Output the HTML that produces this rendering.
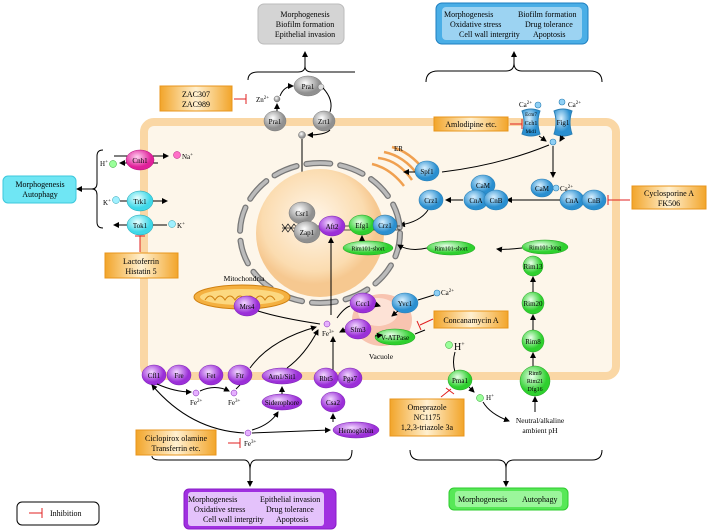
<!DOCTYPE html>
<html><head><meta charset="utf-8"><style>
html,body{margin:0;padding:0;background:#fff}
svg{display:block;font-family:"Liberation Serif",serif}
</style></head><body>
<svg width="708" height="532" viewBox="0 0 708 532" xmlns="http://www.w3.org/2000/svg">
<defs>
<marker id="a" markerWidth="6" markerHeight="6" refX="5" refY="3" orient="auto"><path d="M0,0L6,3L0,6z" fill="#000"/></marker>
<radialGradient id="g1" cx="40%" cy="35%"><stop offset="0" stop-color="#fff"/><stop offset="1" stop-color="#909090"/></radialGradient>
<radialGradient id="b1" cx="40%" cy="35%"><stop offset="0" stop-color="#d8f0ff"/><stop offset="1" stop-color="#2a8fd0"/></radialGradient>
<radialGradient id="gr" cx="40%" cy="35%"><stop offset="0" stop-color="#eaffea"/><stop offset="1" stop-color="#2ed02e"/></radialGradient>
<radialGradient id="pu" cx="40%" cy="35%"><stop offset="0" stop-color="#f2d8ff"/><stop offset="1" stop-color="#9b2fd8"/></radialGradient>
<radialGradient id="cy" cx="40%" cy="35%"><stop offset="0" stop-color="#e8ffff"/><stop offset="1" stop-color="#3fd8e8"/></radialGradient>
<radialGradient id="mg" cx="40%" cy="35%"><stop offset="0" stop-color="#ffd0f0"/><stop offset="1" stop-color="#e0209a"/></radialGradient>
<radialGradient id="nu" cx="45%" cy="40%"><stop offset="0" stop-color="#fff6ea"/><stop offset="0.8" stop-color="#fbdcb0"/><stop offset="1" stop-color="#f6c890"/></radialGradient>
<linearGradient id="or" x1="0" x2="1"><stop offset="0" stop-color="#f2a52a"/><stop offset="0.5" stop-color="#fff0d0"/><stop offset="1" stop-color="#f2a52a"/></linearGradient>
</defs>

<!-- cell -->
<rect x="144" y="122" width="472" height="254" rx="10" fill="#fdf6ea" stroke="#fad7a5" stroke-width="8"/>

<!-- top gray box -->
<rect x="258" y="4" width="86" height="40" rx="6" fill="#d4d4d4" stroke="#bbb"/>
<g font-size="8" text-anchor="middle"><text x="305" y="17">Morphogenesis</text><text x="305" y="27">Biofilm formation</text><text x="305" y="37">Epithelial invasion</text></g>
<path d="M248,80 Q248,72 258,72 L298,72 Q305,72 305,66 Q305,72 312,72 L355,72" fill="none" stroke="#000"/>
<line x1="305" y1="66" x2="305" y2="52" stroke="#000" marker-end="url(#a)"/>

<!-- top blue box -->
<rect x="436" y="3" width="152" height="41" rx="6" fill="#4aaee6" stroke="#1e7fc0"/>
<rect x="442" y="7" width="140" height="33" rx="4" fill="#bfe3f7" opacity="0.7"/>
<g font-size="8"><text x="444" y="17">Morphogenesis</text><text x="518" y="17">Biofilm formation</text><text x="450" y="27">Oxidative stress</text><text x="525" y="27">Drug tolerance</text><text x="459" y="37">Cell wall intergrity</text><text x="533" y="37">Apoptosis</text></g>
<path d="M426,82 Q426,71 438,71 L506,71 Q514,71 514,63 Q514,71 522,71 L590,71 Q602,71 602,82" fill="none" stroke="#000"/>
<line x1="514" y1="63" x2="514" y2="52" stroke="#000" marker-end="url(#a)"/>

<!-- ZAC box -->
<rect x="160" y="86" width="72" height="25" fill="url(#or)" stroke="#e8951c"/>
<g font-size="8" text-anchor="middle"><text x="196" y="97">ZAC307</text><text x="196" y="107">ZAC989</text></g>
<path d="M234,99 H246 M246,94 V104" stroke="#e02020"/>
<text x="256" y="102" font-size="7">Zn<tspan font-size="5" dy="-3">2+</tspan></text>
<circle cx="277" cy="99" r="3" fill="url(#g1)" stroke="#666" stroke-width=".5"/>
<ellipse cx="308" cy="86" rx="14" ry="10" fill="url(#g1)" stroke="#777" stroke-width=".5"/>
<text x="308" y="89" font-size="7" text-anchor="middle">Pra1</text>
<circle cx="321" cy="87" r="3" fill="#ddd" stroke="#666" stroke-width=".5"/>
<ellipse cx="275" cy="121" rx="11" ry="10" fill="url(#g1)" stroke="#777" stroke-width=".5"/>
<text x="275" y="124" font-size="7" text-anchor="middle">Pra1</text>
<ellipse cx="324" cy="121" rx="11" ry="10" fill="url(#g1)" stroke="#777" stroke-width=".5"/>
<text x="324" y="124" font-size="7" text-anchor="middle">Zrt1</text>
<line x1="277" y1="111" x2="277" y2="104" stroke="#000" marker-end="url(#a)"/>
<path d="M280,96 Q284,86 293,86" fill="none" stroke="#000" marker-end="url(#a)"/>
<path d="M323,88 Q334,100 330,112" fill="none" stroke="#000"/>
<path d="M330,130 Q325,135 308,135" fill="none" stroke="#000" marker-end="url(#a)"/>
<circle cx="302" cy="135" r="3.5" fill="url(#g1)" stroke="#666" stroke-width=".5"/>
<line x1="302" y1="139" x2="302" y2="200" stroke="#000" marker-end="url(#a)"/>

<!-- Amlodipine -->
<rect x="434" y="117" width="74" height="14" fill="url(#or)" stroke="#e8951c"/>
<text x="471" y="127" font-size="8" text-anchor="middle">Amlodipine etc.</text>
<path d="M510,124 H522 M522,119 V129" stroke="#e02020"/>
<text x="519" y="107" font-size="7">Ca<tspan font-size="5" dy="-3">2+</tspan></text>
<circle cx="538" cy="105" r="3" fill="#8fd0f5" stroke="#2a7fb5" stroke-width=".6"/>
<circle cx="562" cy="102" r="3" fill="#8fd0f5" stroke="#2a7fb5" stroke-width=".6"/>
<text x="568" y="107" font-size="7">Ca<tspan font-size="5" dy="-3">2+</tspan></text>
<path d="M522,111 Q531,107 540,111 Q536,122 540,134 Q531,138 522,134 Q526,122 522,111z" fill="url(#b1)" stroke="#2a7fb5"/>
<text x="531" y="125" font-size="6" text-anchor="middle">Cch1</text>
<text x="531" y="116" font-size="5" text-anchor="middle">Ecm7</text>
<text x="531" y="133" font-size="5" text-anchor="middle">Mid1</text>
<path d="M554,111 Q563,107 572,111 Q568,122 572,134 Q563,138 554,134 Q558,122 554,111z" fill="url(#b1)" stroke="#2a7fb5"/>
<text x="563" y="125" font-size="7" text-anchor="middle">Fig1</text>
<circle cx="553" cy="142" r="3" fill="#8fd0f5" stroke="#2a7fb5" stroke-width=".6"/>
<line x1="539" y1="136" x2="546" y2="141" stroke="#000" marker-end="url(#a)"/>
<line x1="563" y1="136" x2="560" y2="141" stroke="#000" marker-end="url(#a)"/>
<line x1="553" y1="146" x2="553" y2="177" stroke="#000" marker-end="url(#a)"/>
<path d="M549,145 Q500,165 442,172" fill="none" stroke="#000"/>

<!-- ER -->
<g fill="none" stroke="#f0a050" stroke-width="2.5">
<path d="M378,158 Q398,160 412,180"/><path d="M384,152 Q404,156 418,175"/><path d="M392,147 Q410,152 424,170"/><path d="M372,164 Q390,168 404,186"/>
</g>
<text x="394" y="151" font-size="7">ER</text>
<ellipse cx="427" cy="171" rx="12" ry="10" fill="url(#b1)" stroke="#2a7fb5" stroke-width=".6"/>
<text x="427" y="174" font-size="7" text-anchor="middle">Spf1</text>
<line x1="415" y1="172" x2="404" y2="172" stroke="#000" marker-end="url(#a)"/>

<!-- Calcineurin -->
<ellipse cx="542" cy="188" rx="11" ry="9" fill="url(#b1)" stroke="#2a7fb5" stroke-width=".6"/>
<text x="542" y="191" font-size="7" text-anchor="middle">CaM</text>
<circle cx="556" cy="188" r="3" fill="#8fd0f5" stroke="#2a7fb5" stroke-width=".6"/>
<text x="560" y="191" font-size="7">Ca<tspan font-size="5" dy="-3">2+</tspan></text>
<ellipse cx="572" cy="200" rx="12" ry="10" fill="url(#b1)" stroke="#2a7fb5" stroke-width=".6"/>
<text x="572" y="203" font-size="7" text-anchor="middle">CnA</text>
<ellipse cx="594" cy="200" rx="12" ry="10" fill="url(#b1)" stroke="#2a7fb5" stroke-width=".6"/>
<text x="594" y="203" font-size="7" text-anchor="middle">CnB</text>
<path d="M608,200 H618 M608,195 V205" stroke="#e02020"/>
<line x1="618" y1="200" x2="630" y2="200" stroke="#e02020"/>
<rect x="632" y="186" width="74" height="23" fill="url(#or)" stroke="#e8951c"/>
<g font-size="8" text-anchor="middle"><text x="669" y="196">Cyclosporine A</text><text x="669" y="206">FK506</text></g>
<line x1="560" y1="200" x2="507" y2="200" stroke="#000" marker-end="url(#a)"/>
<ellipse cx="483" cy="185" rx="12" ry="10" fill="url(#b1)" stroke="#2a7fb5" stroke-width=".6"/>
<text x="483" y="188" font-size="7" text-anchor="middle">CaM</text>
<ellipse cx="476" cy="200" rx="12" ry="10" fill="url(#b1)" stroke="#2a7fb5" stroke-width=".6"/>
<text x="476" y="203" font-size="7" text-anchor="middle">CnA</text>
<ellipse cx="496" cy="200" rx="12" ry="10" fill="url(#b1)" stroke="#2a7fb5" stroke-width=".6"/>
<text x="496" y="203" font-size="7" text-anchor="middle">CnB</text>
<line x1="463" y1="200" x2="446" y2="200" stroke="#000" marker-end="url(#a)"/>
<ellipse cx="431" cy="200" rx="12" ry="10" fill="url(#b1)" stroke="#2a7fb5" stroke-width=".6"/>
<text x="431" y="203" font-size="7" text-anchor="middle">Crz1</text>
<path d="M428,210 Q420,222 400,225" fill="none" stroke="#000" marker-end="url(#a)"/>

<!-- Nucleus -->
<circle cx="320" cy="233" r="64" fill="url(#nu)"/>
<g fill="none" stroke="#777" stroke-width="6" stroke-linecap="round" stroke-dasharray="24 10">
<ellipse cx="320" cy="233" rx="80" ry="70"/>
</g>
<g fill="none" stroke="#bbb" stroke-width="3.5" stroke-linecap="round" stroke-dasharray="24 10">
<ellipse cx="320" cy="233" rx="80" ry="70"/>
</g>
<path d="M282,228 L300,228 M282,224 l6,8 l6,-8 l6,8 M282,232 l6,-8 l6,8 l6,-8 M310,226 h90 M310,230 h90" fill="none" stroke="#222" stroke-width=".8"/>
<ellipse cx="302" cy="213" rx="13" ry="11" fill="url(#g1)" stroke="#777" stroke-width=".5"/>
<text x="302" y="216" font-size="7" text-anchor="middle">Csr1</text>
<ellipse cx="307" cy="232" rx="13" ry="11" fill="url(#g1)" stroke="#777" stroke-width=".5"/>
<text x="307" y="235" font-size="7" text-anchor="middle">Zap1</text>
<ellipse cx="332" cy="226" rx="13" ry="10" fill="url(#pu)" stroke="#7a20b0" stroke-width=".5"/>
<text x="332" y="229" font-size="7" text-anchor="middle">Aft2</text>
<ellipse cx="362" cy="225" rx="13" ry="10" fill="url(#gr)" stroke="#20a020" stroke-width=".5"/>
<text x="362" y="228" font-size="7" text-anchor="middle">Efg1</text>
<ellipse cx="385" cy="225" rx="12" ry="10" fill="url(#b1)" stroke="#2a6f95" stroke-width=".5"/>
<text x="385" y="228" font-size="7" text-anchor="middle">Crz1</text>
<ellipse cx="368" cy="248" rx="25" ry="7" fill="url(#gr)" stroke="#20a020" stroke-width=".5"/>
<text x="368" y="250.5" font-size="6" text-anchor="middle">Rim101-short</text>
<line x1="362" y1="241" x2="362" y2="236" stroke="#000" marker-end="url(#a)"/>
<ellipse cx="451" cy="248" rx="24" ry="7" fill="url(#gr)" stroke="#20a020" stroke-width=".5"/>
<text x="451" y="250.5" font-size="6" text-anchor="middle">Rim101-short</text>
<path d="M427,248 Q410,252 398,245" fill="none" stroke="#000" marker-end="url(#a)"/>
<ellipse cx="545" cy="247" rx="23" ry="7" fill="url(#gr)" stroke="#20a020" stroke-width=".5"/>
<text x="545" y="249.5" font-size="6" text-anchor="middle">Rim101-long</text>
<path d="M522,248 Q505,250 497,249" fill="none" stroke="#000" marker-end="url(#a)"/>

<!-- Rim pathway -->
<line x1="533" y1="257" x2="533" y2="258" stroke="#000"/>
<circle cx="533" cy="266" r="10" fill="url(#gr)" stroke="#20a020" stroke-width=".5"/>
<text x="533" y="269" font-size="7" text-anchor="middle">Rim13</text>
<circle cx="533" cy="303" r="11" fill="url(#gr)" stroke="#20a020" stroke-width=".5"/>
<text x="533" y="306" font-size="7" text-anchor="middle">Rim20</text>
<circle cx="533" cy="341" r="11" fill="url(#gr)" stroke="#20a020" stroke-width=".5"/>
<text x="533" y="344" font-size="7" text-anchor="middle">Rim8</text>
<ellipse cx="535" cy="381" rx="15" ry="15" fill="url(#gr)" stroke="#20a020" stroke-width=".5"/>
<g font-size="6" text-anchor="middle"><text x="535" y="375">Rim9</text><text x="535" y="383">Rim21</text><text x="535" y="391">Dfg16</text></g>
<line x1="533" y1="366" x2="533" y2="353" stroke="#000" marker-end="url(#a)"/>
<line x1="533" y1="330" x2="533" y2="315" stroke="#000" marker-end="url(#a)"/>
<line x1="533" y1="292" x2="533" y2="277" stroke="#000" marker-end="url(#a)"/>
<line x1="533" y1="256" x2="533" y2="256" stroke="#000"/>
<line x1="535" y1="412" x2="535" y2="397" stroke="#000" marker-end="url(#a)"/>
<g font-size="7.5" text-anchor="middle"><text x="540" y="423">Neutral/alkaline</text><text x="540" y="433">ambient pH</text></g>

<!-- Left ions -->
<path d="M103,150 Q97,150 97,156 L97,183 Q97,189 92,189 Q97,189 97,195 L97,222 Q97,228 103,228" fill="none" stroke="#000"/>
<line x1="92" y1="189" x2="77" y2="189" stroke="#000" marker-end="url(#a)"/>
<rect x="3" y="176" width="73" height="27" rx="5" fill="#6fe6f4" stroke="#3cc8dc"/>
<g font-size="8" text-anchor="middle"><text x="40" y="187">Morphogenesis</text><text x="40" y="197">Autophagy</text></g>
<line x1="114" y1="156" x2="168" y2="156" stroke="#000" marker-end="url(#a)"/>
<line x1="158" y1="163" x2="120" y2="163" stroke="#000" marker-end="url(#a)"/>
<ellipse cx="140" cy="160" rx="14" ry="10" fill="url(#mg)" stroke="#b0107a" stroke-width=".5"/>
<text x="140" y="163" font-size="7" text-anchor="middle">Cnh1</text>
<circle cx="177" cy="155" r="3.5" fill="#ff70c8" stroke="#b0107a" stroke-width=".5"/>
<text x="182" y="159" font-size="7">Na<tspan font-size="5" dy="-3">+</tspan></text>
<text x="100" y="166" font-size="7">H<tspan font-size="5" dy="-3">+</tspan></text>
<circle cx="113" cy="164" r="3.5" fill="#9aff9a" stroke="#20a020" stroke-width=".5"/>
<text x="103" y="205" font-size="7">K<tspan font-size="5" dy="-3">+</tspan></text>
<circle cx="116" cy="200" r="3.5" fill="#a0f0ff" stroke="#20a0b0" stroke-width=".5"/>
<line x1="120" y1="201" x2="127" y2="201" stroke="#000"/>
<ellipse cx="140" cy="201" rx="13" ry="10" fill="url(#cy)" stroke="#20a0b0" stroke-width=".5"/>
<text x="140" y="204" font-size="7" text-anchor="middle">Trk1</text>
<line x1="153" y1="201" x2="167" y2="201" stroke="#000" marker-end="url(#a)"/>
<line x1="127" y1="225" x2="114" y2="225" stroke="#000" marker-end="url(#a)"/>
<ellipse cx="140" cy="225" rx="13" ry="10" fill="url(#cy)" stroke="#20a0b0" stroke-width=".5"/>
<text x="140" y="228" font-size="7" text-anchor="middle">Tok1</text>
<line x1="153" y1="225" x2="167" y2="225" stroke="#000"/>
<circle cx="172" cy="224" r="3.5" fill="#a0f0ff" stroke="#20a0b0" stroke-width=".5"/>
<text x="177" y="228" font-size="7">K<tspan font-size="5" dy="-3">+</tspan></text>
<path d="M140,252 V236 M135,236 H145" stroke="#e02020"/>
<rect x="105" y="253" width="73" height="25" fill="url(#or)" stroke="#e8951c"/>
<g font-size="8" text-anchor="middle"><text x="141" y="264">Lactoferrin</text><text x="141" y="274">Histatin 5</text></g>

<!-- Mitochondria -->
<text x="244" y="281" font-size="7.5" text-anchor="middle">Mitochondria</text>
<ellipse cx="242" cy="297" rx="48" ry="12" fill="#f4b040" stroke="#d08010"/>
<ellipse cx="242" cy="297" rx="42" ry="8" fill="#fcd880"/>
<path d="M205,300 q5,-8 10,0 q5,-8 10,0 q5,-8 10,0 q5,-8 10,0 q5,-8 10,0 q5,-8 10,0 q5,-8 10,0" fill="none" stroke="#d08010"/>
<ellipse cx="247" cy="306" rx="13" ry="10" fill="url(#pu)" stroke="#7a20b0" stroke-width=".5"/>
<text x="247" y="309" font-size="7" text-anchor="middle">Mrs4</text>
<path d="M320,324 Q280,318 258,311" fill="none" stroke="#000"/>

<!-- Fe center -->
<circle cx="327" cy="324" r="3" fill="#e6b0ff" stroke="#7a20b0" stroke-width=".5"/>
<text x="322" y="336" font-size="7">Fe<tspan font-size="5" dy="-3">3+</tspan></text>
<line x1="331" y1="315" x2="331" y2="238" stroke="#000" marker-end="url(#a)"/>
<line x1="333" y1="375" x2="333" y2="337" stroke="#000" marker-end="url(#a)"/>
<path d="M337,318 Q344,308 350,306" fill="none" stroke="#000"/>
<line x1="346" y1="329" x2="340" y2="332" stroke="#000" marker-end="url(#a)"/>

<!-- Vacuole -->
<ellipse cx="382" cy="320" rx="30" ry="26" fill="#f8c4b0"/>
<ellipse cx="378" cy="312" rx="20" ry="14" fill="#fde2d6"/>
<text x="381" y="359" font-size="7.5" text-anchor="middle">Vacuole</text>
<ellipse cx="363" cy="303" rx="13" ry="10" fill="url(#pu)" stroke="#7a20b0" stroke-width=".5"/>
<text x="363" y="306" font-size="7" text-anchor="middle">Ccc1</text>
<line x1="377" y1="305" x2="380" y2="306" stroke="#000" marker-end="url(#a)"/>
<ellipse cx="358" cy="329" rx="13" ry="10" fill="url(#pu)" stroke="#7a20b0" stroke-width=".5"/>
<text x="358" y="332" font-size="7" text-anchor="middle">Sfm3</text>
<ellipse cx="405" cy="303" rx="13" ry="10" fill="url(#b1)" stroke="#2a7fb5" stroke-width=".5"/>
<text x="405" y="306" font-size="7" text-anchor="middle">Yvc1</text>
<circle cx="437" cy="293" r="3" fill="#8fd0f5" stroke="#2a7fb5" stroke-width=".6"/>
<text x="441" y="295" font-size="7">Ca<tspan font-size="5" dy="-3">2+</tspan></text>
<line x1="434" y1="295" x2="418" y2="300" stroke="#000"/>
<line x1="398" y1="311" x2="392" y2="316" stroke="#000" marker-end="url(#a)"/>
<ellipse cx="395" cy="337" rx="20" ry="8" fill="url(#gr)" stroke="#20a020" stroke-width=".5"/>
<text x="395" y="340" font-size="7" text-anchor="middle">V-ATPase</text>
<line x1="375" y1="336" x2="382" y2="335" stroke="#000" marker-end="url(#a)"/>
<line x1="415" y1="334" x2="425" y2="330" stroke="#000"/>
<path d="M433,319 L420,325 M417,321 L421,330" stroke="#e02020"/>
<rect x="434" y="311" width="74" height="17" fill="url(#or)" stroke="#e8951c"/>
<text x="471" y="323" font-size="8" text-anchor="middle">Concanamycin A</text>

<!-- Pma1 -->
<circle cx="449" cy="345" r="3.5" fill="#9aff9a" stroke="#20a020" stroke-width=".5"/>
<text x="454" y="350" font-size="10">H<tspan font-size="6" dy="-4">+</tspan></text>
<path d="M455,352 Q452,362 455,372" fill="none" stroke="#000"/>
<ellipse cx="460" cy="380" rx="12" ry="10" fill="url(#gr)" stroke="#20a020" stroke-width=".5"/>
<text x="460" y="383" font-size="7" text-anchor="middle">Pma1</text>
<line x1="469" y1="387" x2="474" y2="392" stroke="#000" marker-end="url(#a)"/>
<circle cx="480" cy="398" r="3.5" fill="#9aff9a" stroke="#20a020" stroke-width=".5"/>
<text x="486" y="400" font-size="7">H<tspan font-size="5" dy="-3">+</tspan></text>
<path d="M483,402 Q490,414 509,421" fill="none" stroke="#000" marker-end="url(#a)"/>
<path d="M441,397 L451,389 M446,388 L454,394" stroke="#e02020"/>
<rect x="390" y="399" width="74" height="37" fill="url(#or)" stroke="#e8951c"/>
<g font-size="8" text-anchor="middle"><text x="427" y="410">Omeprazole</text><text x="427" y="420">NC1175</text><text x="427" y="430">1,2,3-triazole 3a</text></g>

<!-- bottom right brace -->
<path d="M410,450 Q410,460 420,460 L498,460 Q506,460 506,468 Q506,460 514,460 L592,460 Q602,460 602,450" fill="none" stroke="#000"/>
<line x1="506" y1="468" x2="506" y2="486" stroke="#000" marker-end="url(#a)"/>
<rect x="449" y="488" width="119" height="22" rx="5" fill="#57e857" stroke="#2ecc2e"/>
<rect x="455" y="491" width="107" height="16" rx="3" fill="#c8ffc8" opacity=".6"/>
<text x="458" y="502" font-size="8">Morphogenesis</text><text x="522" y="502" font-size="8">Autophagy</text>

<!-- Fe uptake row -->
<ellipse cx="154" cy="375" rx="12" ry="10" fill="url(#pu)" stroke="#7a20b0" stroke-width=".5"/>
<text x="154" y="378" font-size="7" text-anchor="middle">Cfl1</text>
<ellipse cx="179" cy="375" rx="12" ry="10" fill="url(#pu)" stroke="#7a20b0" stroke-width=".5"/>
<text x="179" y="378" font-size="7" text-anchor="middle">Fre</text>
<ellipse cx="211" cy="375" rx="12" ry="10" fill="url(#pu)" stroke="#7a20b0" stroke-width=".5"/>
<text x="211" y="378" font-size="7" text-anchor="middle">Fet</text>
<ellipse cx="240" cy="375" rx="12" ry="10" fill="url(#pu)" stroke="#7a20b0" stroke-width=".5"/>
<text x="240" y="378" font-size="7" text-anchor="middle">Ftr</text>
<ellipse cx="282" cy="376" rx="20" ry="8" fill="url(#pu)" stroke="#7a20b0" stroke-width=".5"/>
<text x="282" y="379" font-size="7" text-anchor="middle">Arn1/Sit1</text>
<ellipse cx="326" cy="378" rx="12" ry="10" fill="url(#pu)" stroke="#7a20b0" stroke-width=".5"/>
<text x="326" y="381" font-size="7" text-anchor="middle">Rbt5</text>
<ellipse cx="350" cy="378" rx="12" ry="10" fill="url(#pu)" stroke="#7a20b0" stroke-width=".5"/>
<text x="350" y="381" font-size="7" text-anchor="middle">Pga7</text>
<circle cx="196" cy="393" r="3" fill="#e6b0ff" stroke="#7a20b0" stroke-width=".5"/>
<text x="190" y="405" font-size="7">Fe<tspan font-size="5" dy="-3">2+</tspan></text>
<circle cx="234" cy="393" r="3" fill="#e6b0ff" stroke="#7a20b0" stroke-width=".5"/>
<text x="228" y="405" font-size="7">Fe<tspan font-size="5" dy="-3">3+</tspan></text>
<path d="M157,384 Q175,392 191,392" fill="none" stroke="#000" marker-end="url(#a)"/>
<path d="M200,391 Q215,384 229,391" fill="none" stroke="#000" marker-end="url(#a)"/>
<line x1="236" y1="389" x2="240" y2="385" stroke="#000"/>
<path d="M250,368 Q270,340 316,327" fill="none" stroke="#000" marker-end="url(#a)"/>
<path d="M287,368 Q305,355 318,330" fill="none" stroke="#000" marker-end="url(#a)"/>
<ellipse cx="282" cy="402" rx="20" ry="8" fill="url(#pu)" stroke="#7a20b0" stroke-width=".5"/>
<text x="282" y="405" font-size="7" text-anchor="middle">Siderophore</text>
<line x1="282" y1="394" x2="282" y2="387" stroke="#000" marker-end="url(#a)"/>
<ellipse cx="333" cy="402" rx="12" ry="10" fill="url(#pu)" stroke="#7a20b0" stroke-width=".5"/>
<text x="333" y="405" font-size="7" text-anchor="middle">Csa2</text>
<line x1="333" y1="422" x2="333" y2="414" stroke="#000" marker-end="url(#a)"/>
<ellipse cx="356" cy="430" rx="23" ry="8" fill="url(#pu)" stroke="#7a20b0" stroke-width=".5"/>
<text x="356" y="433" font-size="7" text-anchor="middle">Hemoglobin</text>
<circle cx="248" cy="433" r="3" fill="#e6b0ff" stroke="#7a20b0" stroke-width=".5"/>
<text x="244" y="446" font-size="7">Fe<tspan font-size="5" dy="-3">3+</tspan></text>
<path d="M244,433 Q190,430 152,385" fill="none" stroke="#000" marker-end="url(#a)"/>
<path d="M252,430 Q270,425 278,412" fill="none" stroke="#000" marker-end="url(#a)"/>
<line x1="252" y1="433" x2="330" y2="430" stroke="#000" marker-end="url(#a)"/>
<path d="M228,443 H240 M240,438 V448" stroke="#e02020"/>
<rect x="136" y="430" width="80" height="25" fill="url(#or)" stroke="#e8951c"/>
<g font-size="8" text-anchor="middle"><text x="176" y="441">Ciclopirox olamine</text><text x="176" y="451">Transferrin etc.</text></g>

<!-- bottom left brace -->
<path d="M152,456 Q152,460 160,460 L244,460 Q250,460 250,470 Q250,460 256,460 L346,460 Q352,460 352,450" fill="none" stroke="#000"/>
<line x1="250" y1="470" x2="250" y2="486" stroke="#000" marker-end="url(#a)"/>
<rect x="184" y="489" width="152" height="40" rx="5" fill="#a030e0" stroke="#8a1cc8"/>
<rect x="188" y="492" width="136" height="34" rx="3" fill="#f0dcff" opacity=".85"/>
<g font-size="8"><text x="188" y="502">Morphogenesis</text><text x="260" y="502">Epithelial invasion</text><text x="194" y="512">Oxidative stress</text><text x="266" y="512">Drug tolerance</text><text x="203" y="522">Cell wall intergrity</text><text x="276" y="522">Apoptosis</text></g>

<!-- legend -->
<rect x="17" y="502" width="82" height="23" rx="5" fill="#fff" stroke="#000"/>
<path d="M29,513 H42 M42,508 V518" stroke="#e02020"/>
<text x="50" y="516" font-size="8">Inhibition</text>
</svg>
</body></html>
